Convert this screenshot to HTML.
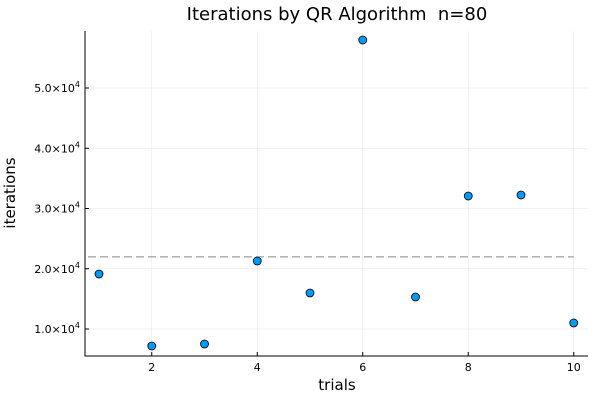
<!DOCTYPE html>
<html><head><meta charset="utf-8"><style>
body{margin:0;background:#fff;font-family:"DejaVu Sans","Liberation Sans",sans-serif}
svg text{font-family:"DejaVu Sans","Liberation Sans",sans-serif}
</style></head><body>
<svg id="chart" width="600" height="400" xmlns="http://www.w3.org/2000/svg"></svg>
<script>
const trials=[1,2,3,4,5,6,7,8,9,10];
const iterations=[19130,7180,7510,21290,15980,57970,15310,32070,32240,11000];
const xTicks=[2,4,6,8,10];
const yTicks=[10000,20000,30000,40000,50000];
const yTickLabels=["1.0","2.0","3.0","4.0","5.0"];

const L=85,R=588,T=31,B=356;
const X=v=>99+(v-1)*52.75;
const Y=v=>329-(v-10000)/10000*60.25;
const svg=document.getElementById('chart');
const NS='http://www.w3.org/2000/svg';
function mk(tag,attrs,parent){const e=document.createElementNS(NS,tag);for(const k in attrs)e.setAttribute(k,attrs[k]);(parent||svg).appendChild(e);return e;}

const grid=mk('g',{});


xTicks.forEach(t=>mk('line',{x1:X(t),x2:X(t),y1:T,y2:B,stroke:'#000','stroke-opacity':0.1,'stroke-width':0.5},grid));
yTicks.forEach(t=>mk('line',{x1:L,x2:R,y1:Y(t),y2:Y(t),stroke:'#000','stroke-opacity':0.1,'stroke-width':0.5},grid));

const axes=mk('path',{d:`M${L},${T}V${B}H${R}`,fill:'none',stroke:'#000','stroke-width':1});



xTicks.forEach(t=>{
  mk('line',{x1:X(t),x2:X(t),y1:B,y2:B-4,stroke:'#000'});
  const tx=mk('text',{x:X(t),y:B+15,'font-size':11,'text-anchor':'middle'});
  
  
  tx.textContent=t;
});
yTicks.forEach((t,i)=>{
  mk('line',{x1:L,x2:L+4,y1:Y(t),y2:Y(t),stroke:'#000'});
  const tx=mk('text',{x:L-5,y:Y(t)+4,'font-size':11,'text-anchor':'end'});
  
  
  tx.innerHTML=yTickLabels[i]+'×10<tspan font-size="8" dy="-5">4</tspan>';
});

const mean=iterations.reduce((a,b)=>a+b,0)/iterations.length;
const ml=mk('line',{x1:88,x2:X(10),y1:Y(mean),y2:Y(mean),stroke:'#888','stroke-width':1,'stroke-dasharray':'8,4'});



trials.forEach((t,i)=>{
  const c=mk('circle',{cx:X(t),cy:Y(iterations[i]),r:4,fill:'#009af9',stroke:'#000','stroke-width':0.8});
  
  
});

const title=mk('text',{x:337,y:20,'font-size':18,'text-anchor':'middle','xml:space':'preserve'});


title.textContent='Iterations by QR Algorithm\u00a0\u00a0n=80';
const xt=mk('text',{x:337,y:390,'font-size':15,'text-anchor':'middle'});


xt.textContent='trials';
const yt=mk('text',{x:15,y:193,'font-size':15,'text-anchor':'middle',transform:'rotate(-90 15 193)'});


yt.textContent='iterations';
</script>
</body></html>
